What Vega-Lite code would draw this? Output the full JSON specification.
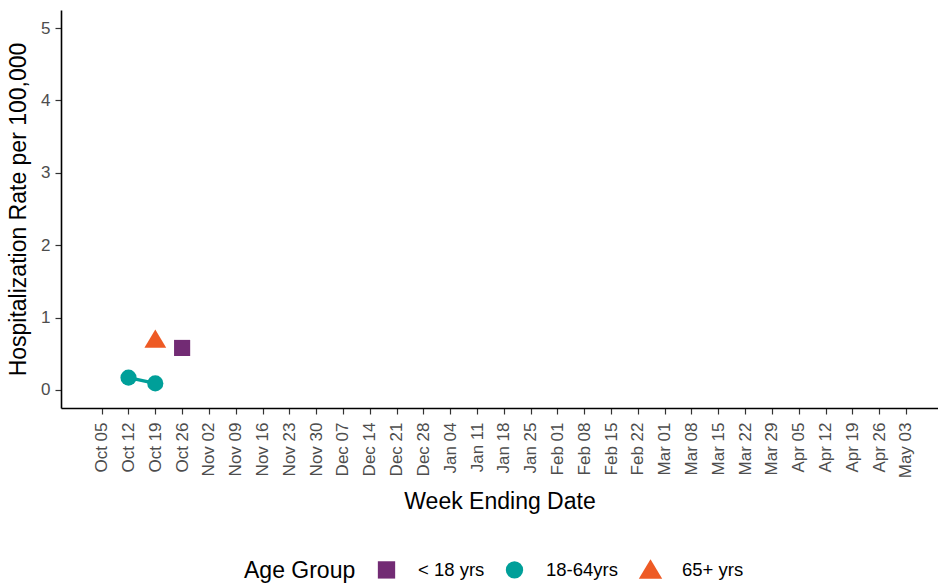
{
  "$schema": "https://vega.github.io/schema/vega-lite/v6.json",
  "width": 877,
  "height": 398,
  "autosize": {"type": "none"},
  "padding": {"left": 61, "top": 10, "right": 0, "bottom": 176},
  "background": "white",
  "config": {
    "view": {"stroke": null},
    "font": "Liberation Sans",
    "axis": {
      "grid": false,
      "domainColor": "#000000",
      "domainWidth": 1.6,
      "tickColor": "#333333",
      "tickSize": 6,
      "tickWidth": 1.2,
      "labelColor": "#4d4d4d",
      "labelFontSize": 17,
      "labelFont": "Liberation Sans",
      "titleFont": "Liberation Sans",
      "titleFontSize": 23,
      "titleFontWeight": "normal",
      "titleColor": "#000000"
    }
  },
  "data": {
    "values": [
      {"week": "2024-10-12", "group": "18-64yrs", "rate": 0.17},
      {"week": "2024-10-19", "group": "18-64yrs", "rate": 0.09},
      {"week": "2024-10-19", "group": "65+ yrs", "rate": 0.70},
      {"week": "2024-10-26", "group": "< 18 yrs", "rate": 0.58}
    ]
  },
  "encoding": {
    "x": {
      "field": "week",
      "type": "temporal",
      "title": "Week Ending Date",
      "scale": {
        "type": "utc",
        "domain": [
          {"year": 2024, "month": 9, "date": 24, "hours": 9, "utc": true},
          {"year": 2025, "month": 5, "date": 11, "hours": 9, "utc": true}
        ]
      },
      "axis": {
        "labelExpr": "utcFormat(datum.value, '%b %d')",
        "labelAngle": 270,
        "labelAlign": "right",
        "labelBaseline": "middle",
        "labelPadding": 8,
        "titlePadding": 13,
        "labelOverlap": false,
        "values": [
          {"year": 2024, "month": 10, "date": 5, "utc": true},
          {"year": 2024, "month": 10, "date": 12, "utc": true},
          {"year": 2024, "month": 10, "date": 19, "utc": true},
          {"year": 2024, "month": 10, "date": 26, "utc": true},
          {"year": 2024, "month": 11, "date": 2, "utc": true},
          {"year": 2024, "month": 11, "date": 9, "utc": true},
          {"year": 2024, "month": 11, "date": 16, "utc": true},
          {"year": 2024, "month": 11, "date": 23, "utc": true},
          {"year": 2024, "month": 11, "date": 30, "utc": true},
          {"year": 2024, "month": 12, "date": 7, "utc": true},
          {"year": 2024, "month": 12, "date": 14, "utc": true},
          {"year": 2024, "month": 12, "date": 21, "utc": true},
          {"year": 2024, "month": 12, "date": 28, "utc": true},
          {"year": 2025, "month": 1, "date": 4, "utc": true},
          {"year": 2025, "month": 1, "date": 11, "utc": true},
          {"year": 2025, "month": 1, "date": 18, "utc": true},
          {"year": 2025, "month": 1, "date": 25, "utc": true},
          {"year": 2025, "month": 2, "date": 1, "utc": true},
          {"year": 2025, "month": 2, "date": 8, "utc": true},
          {"year": 2025, "month": 2, "date": 15, "utc": true},
          {"year": 2025, "month": 2, "date": 22, "utc": true},
          {"year": 2025, "month": 3, "date": 1, "utc": true},
          {"year": 2025, "month": 3, "date": 8, "utc": true},
          {"year": 2025, "month": 3, "date": 15, "utc": true},
          {"year": 2025, "month": 3, "date": 22, "utc": true},
          {"year": 2025, "month": 3, "date": 29, "utc": true},
          {"year": 2025, "month": 4, "date": 5, "utc": true},
          {"year": 2025, "month": 4, "date": 12, "utc": true},
          {"year": 2025, "month": 4, "date": 19, "utc": true},
          {"year": 2025, "month": 4, "date": 26, "utc": true},
          {"year": 2025, "month": 5, "date": 3, "utc": true}
        ]
      }
    },
    "y": {
      "field": "rate",
      "type": "quantitative",
      "title": "Hospitalization Rate per 100,000",
      "scale": {"domain": [-0.25, 5.25], "nice": false, "zero": false},
      "axis": {"values": [0, 1, 2, 3, 4, 5], "titlePadding": 10, "labelPadding": 5}
    }
  },
  "layer": [
    {
      "transform": [{"filter": "datum.group == '18-64yrs'"}],
      "mark": {"type": "line", "strokeWidth": 3.2, "color": "#009F99"},
      "encoding": {}
    },
    {
      "mark": {"type": "point", "filled": true, "opacity": 1, "size": 260},
      "encoding": {
        "color": {
          "field": "group",
          "type": "nominal",
          "title": "Age Group",
          "scale": {
            "domain": ["< 18 yrs", "18-64yrs", "65+ yrs"],
            "range": ["#722B74", "#009F99", "#EE5A24"]
          },
          "legend": {
            "orient": "none",
            "legendX": 183,
            "legendY": 550,
            "direction": "horizontal",
            "titleOrient": "left",
            "titleFontSize": 23,
            "titleFontWeight": "normal",
            "titleColor": "#000000",
            "titleFont": "Liberation Sans",
            "titleAnchor": "middle",
            "titlePadding": 21,
            "labelFontSize": 18.5,
            "labelFont": "Liberation Sans",
            "labelColor": "#000000",
            "symbolSize": 300,
            "symbolOpacity": 1,
            "labelOffset": 22,
            "columnPadding": 17
          }
        },
        "shape": {
          "field": "group",
          "type": "nominal",
          "title": "Age Group",
          "scale": {
            "domain": ["< 18 yrs", "18-64yrs", "65+ yrs"],
            "range": ["square", "circle", "M0,-1.2L1.35,1.05L-1.35,1.05Z"]
          }
        }
      }
    }
  ]
}
